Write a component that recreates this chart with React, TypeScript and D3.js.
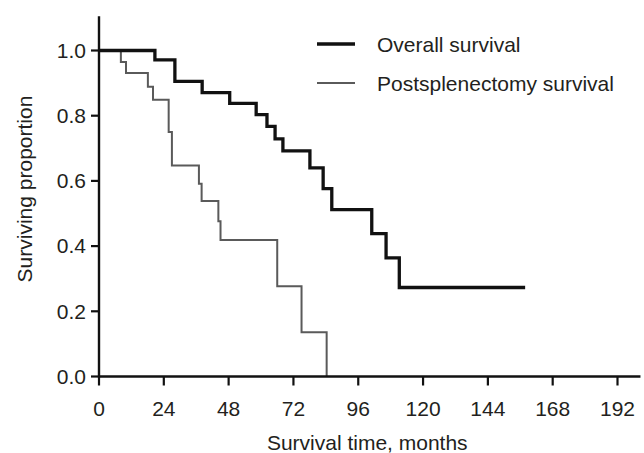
import React from "react";
import * as d3 from "d3";

const overallTimes = [0, 20.7, 28.1, 38.2, 48.4, 58.2, 62.2, 65.2, 68.1, 78.1, 83.0, 86.2, 101.0, 106.3, 111.2, 157.8];
const overallSurv = [1, 0.971, 0.905, 0.871, 0.838, 0.803, 0.767, 0.729, 0.692, 0.64, 0.576, 0.512, 0.438, 0.364, 0.273, 0.273];

const postTimes = [0, 8.1, 10.0, 18.1, 20.0, 25.8, 27.0, 37.0, 38.0, 44.2, 45.0, 66.0, 75.0, 84.3];
const postSurv = [1, 0.965, 0.931, 0.889, 0.849, 0.75, 0.647, 0.591, 0.538, 0.476, 0.419, 0.277, 0.136, 0];

const xTicks = [0, 24, 48, 72, 96, 120, 144, 168, 192];
const yTicks = [0, 0.2, 0.4, 0.6, 0.8, 1.0];

const seriesNames = ["Overall survival", "Postsplenectomy survival"];

export default function App() {
  const W = 644;
  const H = 453;
  const x = d3.scaleLinear().domain([0, 192]).range([99, 617.5]);
  const y = d3.scaleLinear().domain([0, 1]).range([376.5, 50.5]);
  const xMaxAxis = 200.5;
  const yMaxAxis = 1.105;

  const line = d3
    .line<[number, number]>()
    .x((d) => x(d[0]))
    .y((d) => y(d[1]))
    .curve(d3.curveStepAfter);

  const overallPts: [number, number][] = overallTimes.map((t, i) => [t, overallSurv[i]]);
  const postPts: [number, number][] = postTimes.map((t, i) => [t, postSurv[i]]);

  const textColor = "#231f20";
  const font = "'Liberation Sans', Arial, sans-serif";
  const fs = 21;

  return (
    <svg
      width={W}
      height={H}
      style={{ position: "absolute", left: 0, top: 0, background: "#fff" }}
      fontFamily={font}
    >
      <rect x={0} y={0} width={W} height={H} fill="#fff" />
      {/* curves */}
      <path d={line(postPts) || ""} fill="none" stroke="#5a5a5a" strokeWidth={2} />
      <path d={line(overallPts) || ""} fill="none" stroke="#111" strokeWidth={3.3} />

      {/* axes */}
      <line x1={x(0)} x2={x(0)} y1={y(yMaxAxis)} y2={y(0) + 1} stroke="#111" strokeWidth={2.4} />
      <line x1={x(0) - 1} x2={x(xMaxAxis)} y1={y(0)} y2={y(0)} stroke="#111" strokeWidth={2.4} />
      {yTicks.map((t) => (
        <g key={"y" + t}>
          <line x1={x(0) - 8} x2={x(0)} y1={y(t)} y2={y(t)} stroke="#111" strokeWidth={2.2} />
          <text
            x={x(0) - 13}
            y={y(t)}
            dy="0.35em"
            textAnchor="end"
            fontSize={fs}
            fill={textColor}
          >
            {t.toFixed(1)}
          </text>
        </g>
      ))}
      {xTicks.map((t) => (
        <g key={"x" + t}>
          <line x1={x(t)} x2={x(t)} y1={y(0)} y2={y(0) + 9} stroke="#111" strokeWidth={2.2} />
          <text x={x(t)} y={416} textAnchor="middle" fontSize={fs} fill={textColor}>
            {t}
          </text>
        </g>
      ))}
      <text x={(x(0) + x(192)) / 2 + 9} y={450} textAnchor="middle" fontSize={fs} fill={textColor}>
        Survival time, months
      </text>
      <text
        transform={`translate(32,${y(0.575)}) rotate(-90)`}
        textAnchor="middle"
        fontSize={fs}
        fill={textColor}
      >
        Surviving proportion
      </text>

      {/* legend */}
      <line x1={317} x2={355} y1={44} y2={44} stroke="#111" strokeWidth={3.3} />
      <text x={377} y={51.5} fontSize={fs} fill={textColor}>
        {seriesNames[0]}
      </text>
      <line x1={317} x2={355} y1={83} y2={83} stroke="#5a5a5a" strokeWidth={2} />
      <text x={377} y={90.5} fontSize={fs} fill={textColor}>
        {seriesNames[1]}
      </text>
    </svg>
  );
}
